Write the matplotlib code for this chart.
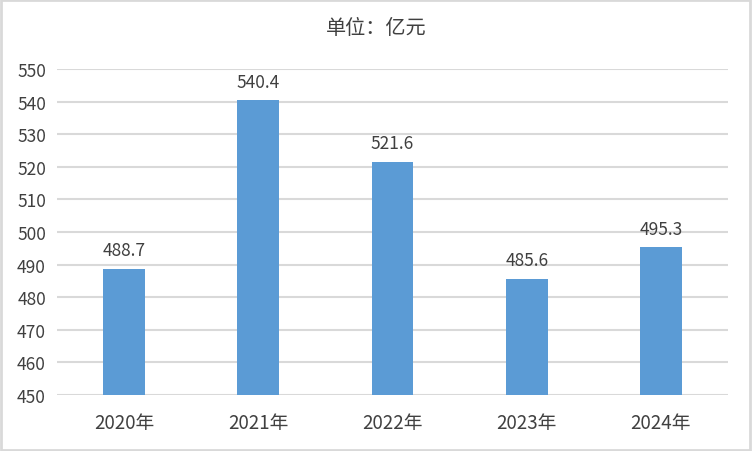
import matplotlib
matplotlib.use("Agg")
import matplotlib.pyplot as plt
from matplotlib.patches import Rectangle

plt.rcParams['font.family'] = ['Noto Sans CJK SC', 'DejaVu Sans']

categories = ["2020年", "2021年", "2022年", "2023年", "2024年"]
values = [488.7, 540.4, 521.6, 485.6, 495.3]
yticks = [450, 460, 470, 480, 490, 500, 510, 520, 530, 540, 550]
title = "单位：亿元"

fig = plt.figure(figsize=(7.52, 4.52), dpi=100)
ax = fig.add_axes([57/752, 1-396/452, (728-57)/752, (396-70)/452])

x = list(range(len(categories)))
ax.bar(x, [v - 450 for v in values], bottom=450, width=0.31, color="#5B9BD5", zorder=3)
for xi, v in zip(x, values):
    ax.text(xi, v + 3.0, f"{v:.1f}", ha="center", va="bottom", fontsize=12.5, color="#404040")

ax.set_xlim(-0.5, len(categories) - 0.5)
ax.set_ylim(450, 550)
ax.set_yticks(yticks)
ax.set_yticklabels([str(t) for t in yticks], fontsize=12.5, color="#404040")
ax.set_xticks(x)
ax.set_xticklabels(categories, fontsize=13.5, color="#404040")
ax.tick_params(length=0, pad=8)
ax.tick_params(axis='x', pad=12)
ax.grid(axis='y', color="#d9d9d9", linewidth=1.5, zorder=0)
for s in ax.spines.values():
    s.set_visible(False)

fig.text(376/752, 1-28/452, title, ha="center", va="center", fontsize=14.5, color="#404040")

fig.patches.append(Rectangle((0.001, 0.002), 0.997, 0.995, transform=fig.transFigure,
                             fill=False, edgecolor="#d9d9d9", linewidth=2))

fig.savefig("out.png", dpi=100)
